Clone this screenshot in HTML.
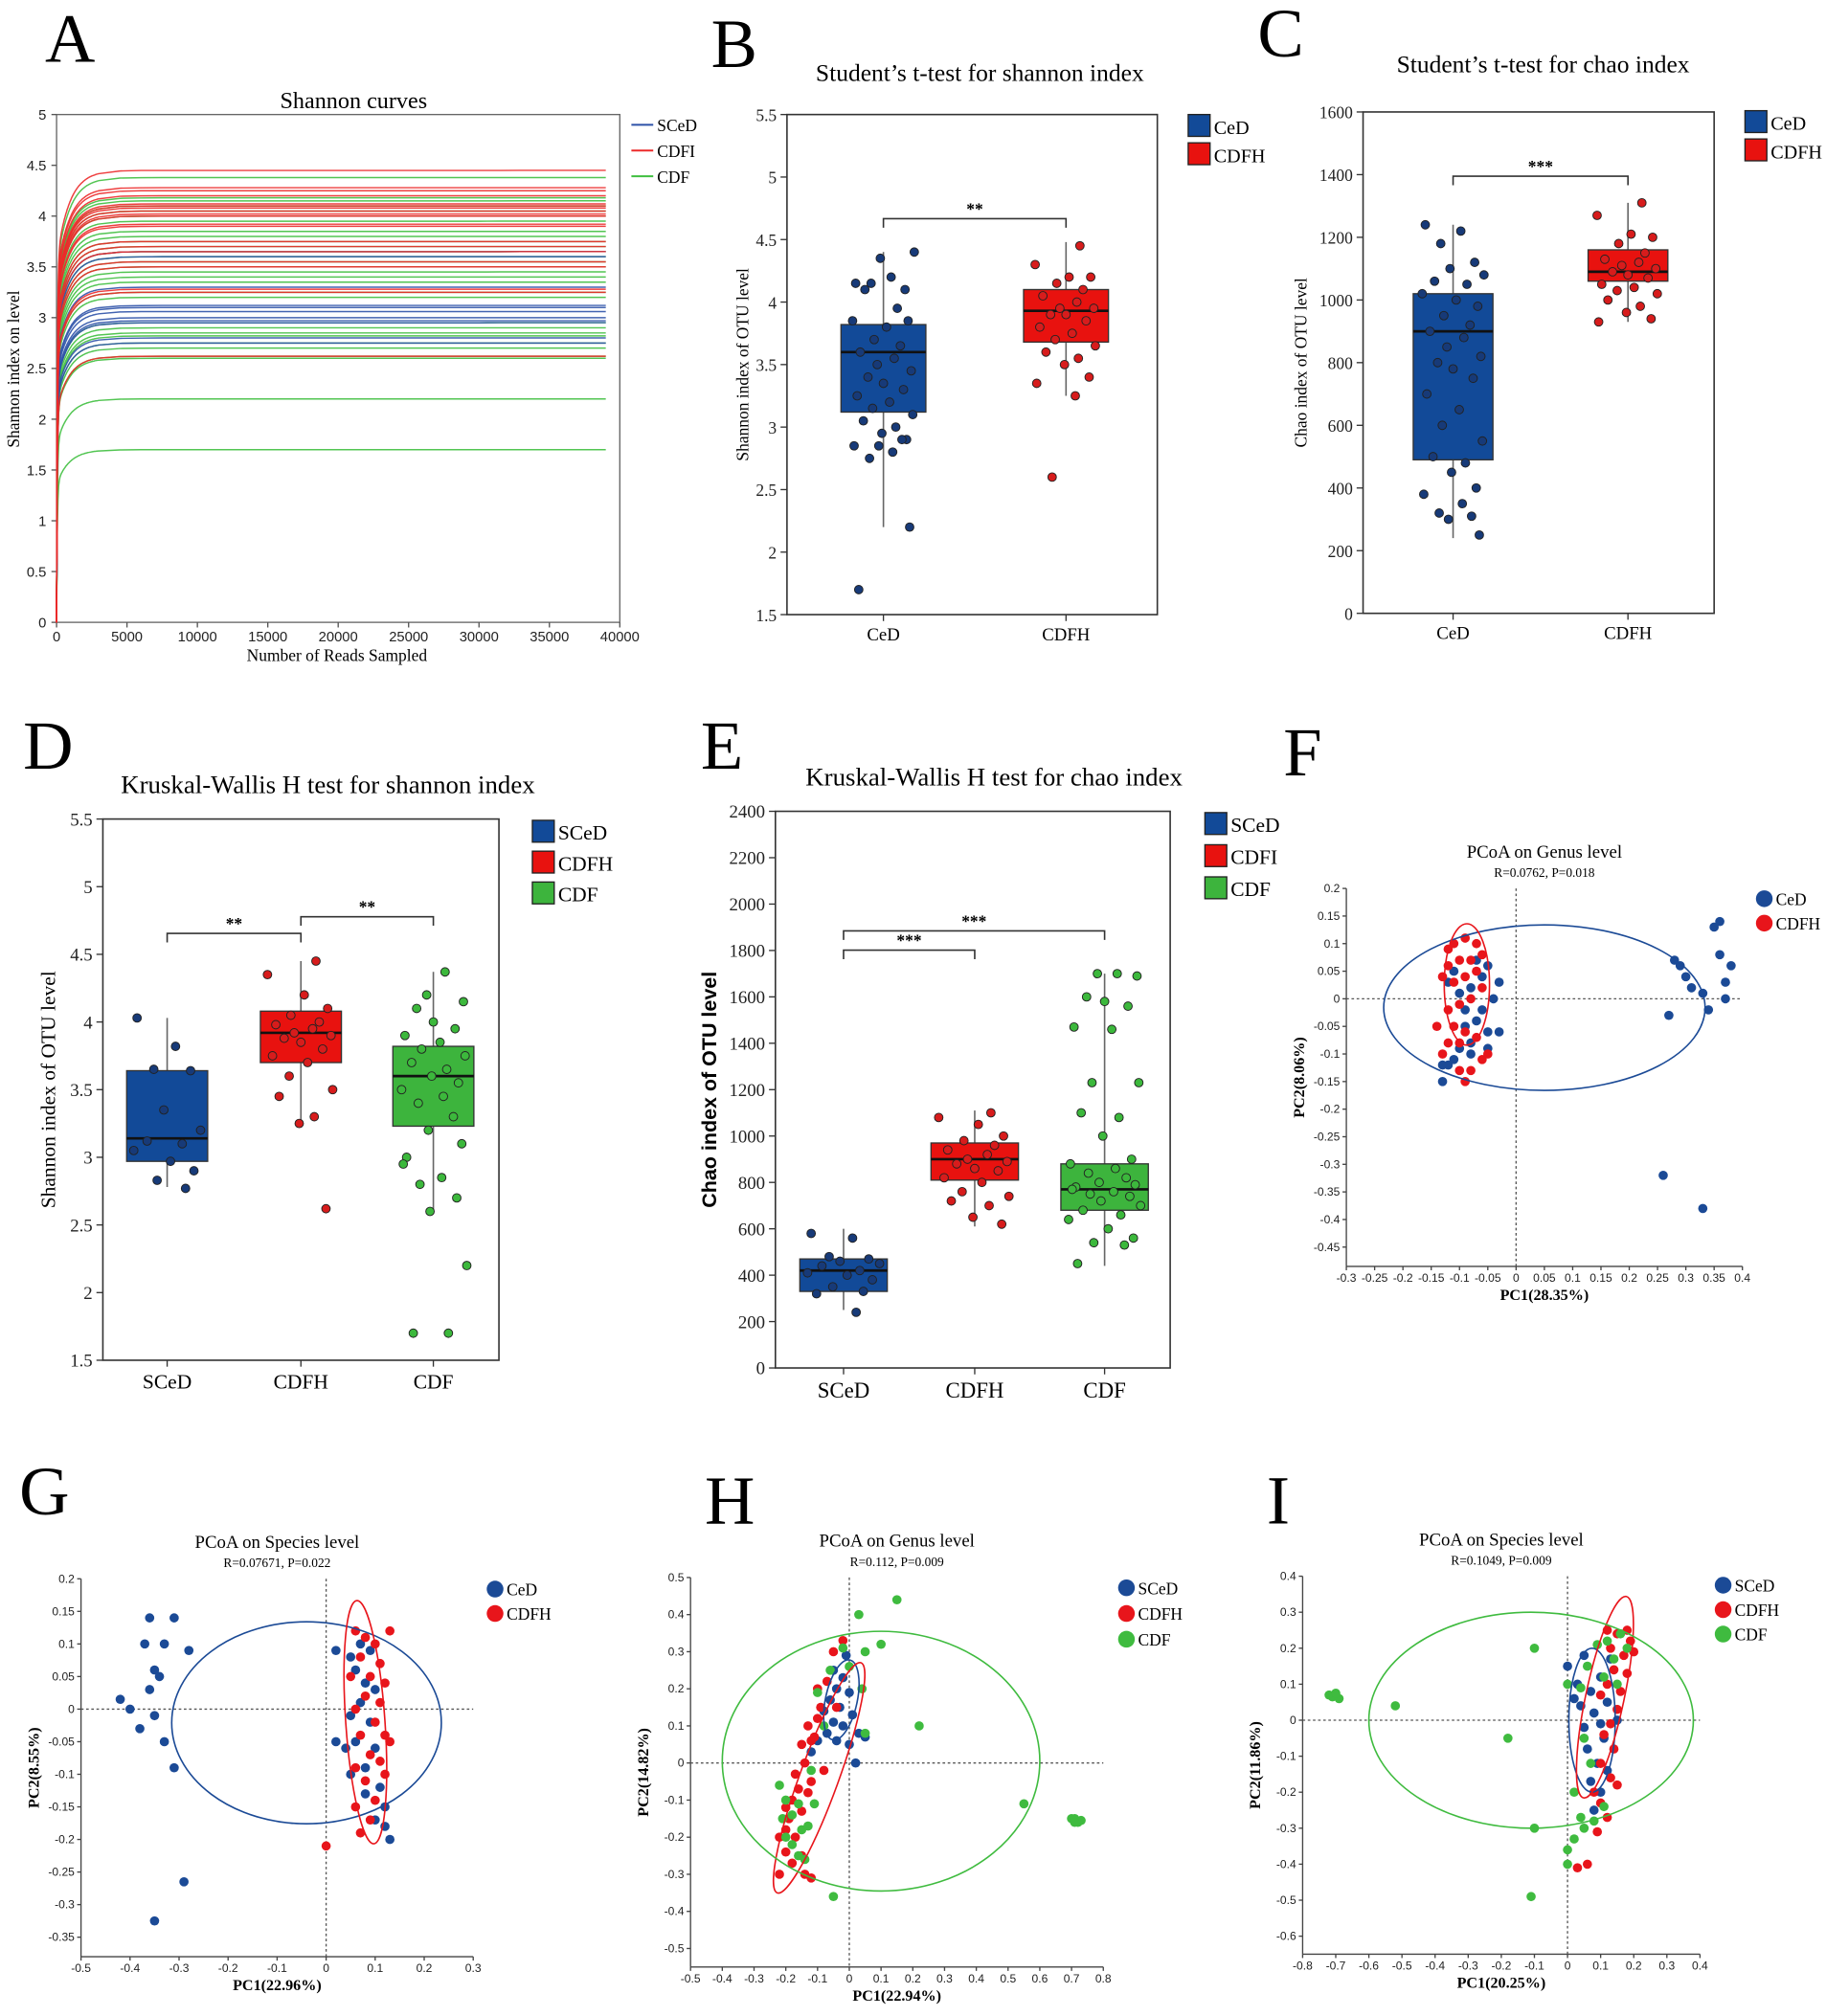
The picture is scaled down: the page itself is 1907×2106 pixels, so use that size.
<!DOCTYPE html>
<html><head><meta charset="utf-8">
<style>
html,body{margin:0;padding:0;background:#fff;}
svg{display:block;}
text{font-family:"Liberation Serif",serif;}
.sans{font-family:"Liberation Sans",sans-serif;}
</style></head>
<body>
<svg id="fig" xmlns="http://www.w3.org/2000/svg" width="1907" height="2106" viewBox="0 0 1420 1568"></svg>
<script>
// ---------- DATA ----------
const shannonGroups = ["SCeD","CDFH","CDF"];
const shannonBlue = [2.75,2.8,2.95,2.97,3.0,3.06,3.1,3.12,3.3,3.6,3.65];
const shannonRed = [2.62,3.25,3.28,3.5,3.55,3.65,3.7,3.75,3.9,3.92,4.0,4.02,4.05,4.08,4.1,4.12,4.2,4.25,4.28,4.45];
const shannonGreen = [1.7,2.2,2.6,2.62,2.7,2.75,2.82,2.85,2.9,2.95,3.2,3.25,3.35,3.4,3.45,3.5,3.55,3.6,3.65,3.7,3.75,3.8,3.85,3.95,4.0,4.05,4.1,4.15,4.18,4.38];

const bCats = ["CeD","CDFH"];
const bBoxes = [[2.2,3.12,3.6,3.82,4.4],[3.25,3.68,3.93,4.1,4.48]];
const bPtsCeD = [4.15,4.2,4.15,4.1,4.35,4.4,4.1,3.95,3.85,3.8,3.85,3.7,3.65,3.6,3.55,3.5,3.45,3.4,3.35,3.3,3.25,3.2,3.15,3.1,3.05,3.0,2.95,2.9,2.85,2.8,2.75,2.9,2.85,2.2,1.7];
const bPtsCDFH = [4.45,4.3,4.2,4.2,4.15,4.1,4.05,4.0,3.95,3.95,3.9,3.9,3.85,3.8,3.75,3.7,3.65,3.6,3.55,3.5,3.4,3.35,3.25,2.6];

const cCats = ["CeD","CDFH"];
const cBoxes = [[240,490,900,1020,1240],[930,1060,1090,1160,1310]];
const cPtsCeD = [1240,1220,1180,1120,1100,1080,1060,1050,1020,1000,980,950,920,900,880,850,820,800,780,750,700,650,600,550,500,480,450,400,380,350,320,310,300,250];
const cPtsCDFH = [1310,1270,1210,1200,1180,1150,1130,1120,1110,1100,1090,1080,1070,1050,1040,1030,1020,1000,980,960,940,930];

const dCats = ["SCeD","CDFH","CDF"];
const dBoxes = [[2.78,2.97,3.14,3.64,4.03],[3.25,3.7,3.92,4.08,4.45],[2.6,3.23,3.6,3.82,4.37]];
const dPtsSCeD = [4.03,3.82,3.65,3.64,3.35,3.2,3.12,3.1,3.05,2.97,2.9,2.83,2.77];
const dPtsCDFH = [4.45,4.35,4.2,4.1,4.05,4.0,3.98,3.95,3.92,3.9,3.88,3.85,3.8,3.75,3.7,3.6,3.5,3.45,3.3,3.25,2.62];
const dPtsCDF = [4.37,4.2,4.15,4.1,4.0,3.95,3.9,3.85,3.8,3.75,3.7,3.65,3.6,3.55,3.5,3.45,3.4,3.3,3.2,3.1,3.0,2.95,2.85,2.8,2.7,2.6,2.2,1.7,1.7];

const eCats = ["SCeD","CDFH","CDF"];
const eBoxes = [[250,330,420,470,600],[610,810,900,970,1110],[440,680,770,880,1700]];
const ePtsSCeD = [580,560,480,470,460,450,440,420,410,400,380,350,330,320,240];
const ePtsCDFH = [1100,1080,1050,1000,980,960,940,920,900,890,880,860,850,820,800,760,740,720,700,650,620];
const ePtsCDF = [1700,1700,1690,1600,1580,1560,1470,1460,1230,1230,1100,1080,1000,900,880,860,840,820,800,790,780,770,760,750,740,720,700,680,660,640,600,560,540,530,450];

const fBlue = [[-0.13,-0.15],[-0.12,-0.12],[-0.11,-0.11],[-0.13,-0.12],[-0.1,-0.09],[-0.08,-0.08],[-0.09,-0.05],[-0.07,-0.04],[-0.05,-0.06],[-0.03,-0.06],[-0.06,-0.02],[-0.04,0.0],[-0.03,0.03],[-0.05,0.06],[-0.06,0.04],[-0.08,0.02],[-0.1,0.01],[-0.09,-0.02],[-0.07,0.07],[-0.11,0.05],[-0.12,0.03],[-0.08,-0.1],[-0.05,-0.09],[0.28,0.07],[0.29,0.06],[0.3,0.04],[0.31,0.02],[0.33,0.01],[0.35,0.13],[0.36,0.14],[0.36,0.08],[0.38,0.06],[0.37,0.03],[0.37,0.0],[0.34,-0.02],[0.27,-0.03],[0.26,-0.32],[0.33,-0.38]];
const fRed = [[-0.12,0.09],[-0.11,0.1],[-0.09,0.11],[-0.07,0.1],[-0.06,0.08],[-0.08,0.07],[-0.1,0.07],[-0.12,0.06],[-0.13,0.04],[-0.11,0.03],[-0.09,0.04],[-0.07,0.05],[-0.06,0.02],[-0.08,0.0],[-0.1,-0.01],[-0.12,-0.02],[-0.14,-0.05],[-0.11,-0.05],[-0.09,-0.06],[-0.07,-0.07],[-0.12,-0.08],[-0.1,-0.08],[-0.06,-0.11],[-0.08,-0.13],[-0.1,-0.13],[-0.09,-0.15],[-0.05,-0.1],[-0.13,-0.1]];

const gBlue = [[-0.36,0.14],[-0.31,0.14],[-0.37,0.1],[-0.33,0.1],[-0.28,0.09],[-0.35,0.06],[-0.34,0.05],[-0.36,0.03],[-0.42,0.015],[-0.4,0.0],[-0.35,-0.01],[-0.38,-0.03],[-0.33,-0.05],[-0.31,-0.09],[-0.29,-0.265],[-0.35,-0.325],[0.02,0.09],[0.05,0.08],[0.07,0.1],[0.09,0.09],[0.06,0.06],[0.08,0.04],[0.1,0.03],[0.07,0.01],[0.05,-0.01],[0.09,-0.02],[0.02,-0.05],[0.06,-0.05],[0.1,-0.06],[0.08,-0.09],[0.05,-0.1],[0.11,-0.12],[0.08,-0.13],[0.12,-0.15],[0.1,-0.17],[0.12,-0.18],[0.13,-0.2],[0.04,-0.06]];
const gRed = [[0.06,0.12],[0.08,0.11],[0.1,0.1],[0.13,0.12],[0.07,0.08],[0.11,0.07],[0.05,0.05],[0.09,0.05],[0.12,0.04],[0.08,0.02],[0.11,0.01],[0.06,0.0],[0.1,-0.02],[0.12,-0.04],[0.13,-0.05],[0.07,-0.04],[0.09,-0.07],[0.11,-0.08],[0.06,-0.09],[0.08,-0.11],[0.1,-0.14],[0.06,-0.15],[0.09,-0.17],[0.07,-0.19],[0.0,-0.21],[0.12,-0.1]];

const hBlue = [[-0.05,0.25],[-0.02,0.23],[-0.04,0.2],[0.0,0.19],[-0.06,0.17],[-0.03,0.15],[0.01,0.13],[-0.08,0.14],[-0.05,0.11],[-0.02,0.1],[0.03,0.08],[-0.07,0.08],[-0.1,0.06],[-0.04,0.06],[0.0,0.05],[0.02,0.0],[-0.12,0.03],[0.05,0.07],[-0.01,0.29]];
const hRed = [[-0.02,0.33],[-0.05,0.3],[-0.1,0.2],[-0.09,0.15],[-0.13,0.1],[-0.12,0.06],[-0.15,0.05],[-0.14,0.0],[-0.17,-0.03],[-0.12,-0.05],[-0.16,-0.07],[-0.18,-0.1],[-0.2,-0.12],[-0.15,-0.13],[-0.19,-0.15],[-0.2,-0.18],[-0.17,-0.2],[-0.22,-0.2],[-0.2,-0.24],[-0.15,-0.25],[-0.18,-0.27],[-0.14,-0.3],[-0.12,-0.31],[-0.22,-0.3],[-0.07,0.22],[-0.04,0.15],[-0.1,0.12],[-0.11,0.07],[-0.08,-0.02],[-0.13,-0.08]];
const hGreen = [[0.03,0.4],[0.15,0.44],[0.1,0.32],[-0.02,0.31],[0.05,0.3],[0.0,0.26],[-0.06,0.25],[0.04,0.2],[0.05,0.08],[-0.1,0.19],[-0.08,0.1],[0.22,0.1],[-0.22,-0.06],[-0.2,-0.1],[-0.16,-0.11],[-0.18,-0.14],[-0.21,-0.15],[-0.15,-0.18],[-0.2,-0.2],[-0.18,-0.22],[-0.14,-0.26],[-0.16,-0.25],[-0.05,-0.36],[-0.12,-0.02],[0.55,-0.11],[0.7,-0.15],[0.71,-0.15],[0.72,-0.16],[0.73,-0.155],[0.71,-0.16],[-0.13,-0.17],[-0.11,-0.11]];

const iBlue = [[0.0,0.15],[0.05,0.18],[0.1,0.12],[0.03,0.1],[0.07,0.08],[0.12,0.05],[0.04,0.04],[0.08,0.02],[0.1,-0.01],[0.05,-0.02],[0.11,-0.05],[0.06,-0.08],[0.09,-0.12],[0.12,-0.14],[0.07,-0.17],[0.1,-0.2],[0.08,-0.25],[0.13,0.17],[0.02,0.06],[0.15,0.0]];
const iRed = [[0.12,0.25],[0.15,0.24],[0.18,0.25],[0.13,0.2],[0.17,0.18],[0.2,0.19],[0.14,0.14],[0.18,0.13],[0.12,0.1],[0.16,0.08],[0.1,0.07],[0.15,0.03],[0.13,-0.01],[0.11,-0.04],[0.14,-0.08],[0.1,-0.12],[0.13,-0.16],[0.08,-0.2],[0.1,-0.23],[0.12,-0.27],[0.09,-0.31],[0.06,-0.4],[0.03,-0.41],[0.15,-0.18],[0.19,0.22]];
const iGreen = [[-0.72,0.07],[-0.7,0.07],[-0.71,0.065],[-0.69,0.06],[-0.7,0.075],[-0.52,0.04],[-0.1,0.2],[-0.18,-0.05],[-0.1,-0.3],[-0.11,-0.49],[0.16,0.24],[0.12,0.22],[0.18,0.2],[0.09,0.21],[0.14,0.17],[0.06,0.15],[0.11,0.12],[0.0,0.1],[0.05,-0.05],[0.02,-0.2],[0.04,-0.27],[0.02,-0.33],[0.0,-0.36],[0.05,-0.3],[0.0,-0.4],[0.08,-0.28],[0.11,-0.24],[0.15,0.1],[0.04,0.09],[0.07,-0.12]];

const JIT = [-18,5,-8,14,-2,20,-12,9,-20,2,16,-6,11,-15,7,-4,18,-10,0,13,-17,4,-7,19,-13,8,-1,15,-19,6,-9,12,-3,17,-16];

const BLUE="#124a98", RED="#e8120f", GREEN="#3db43d";
const PBLUE="#1b4a96", PRED="#e8151b", PGREEN="#3fbb3f";
const svg=document.getElementById('fig');
const NS="http://www.w3.org/2000/svg";
function mk(tag,attrs,parent){const e=document.createElementNS(NS,tag);for(const k in attrs)e.setAttribute(k,attrs[k]);(parent||svg).appendChild(e);return e;}
function txt(x,y,s,size,extra,parent){const t=mk('text',Object.assign({x:x,y:y,'font-size':size},extra||{}),parent);t.textContent=s;return t;}
function lin(a,b,c,d){return (v)=>c+(v-a)*(d-c)/(b-a);}

// panel letters
const letters=[["A",35,48],["B",553,52],["C",978,44],["D",18,598],["E",545,598],["F",998,603],["G",15,1178],["H",548,1185],["I",985,1185]];
letters.forEach(l=>{const t=txt(l[1],l[2],l[0],54);

});

// ---------- PANEL A ----------
(function(){
const g=mk('g',{});


const X=lin(0,40000,44,482), Y=lin(0,5,484,89);
const fr=mk('rect',{x:44,y:89,width:438,height:395,fill:'none',stroke:'#666','stroke-width':1},g);


const ti=txt(275,84,"Shannon curves",18,{'text-anchor':'middle'},g);


for(let v=0;v<=5.001;v+=0.5){const y=Y(v);mk('line',{x1:40,x2:44,y1:y,y2:y,stroke:'#555'},g);
const t=txt(36,y+4,String(+v.toFixed(1)),11,{'text-anchor':'end',class:'sans',fill:'#222'},g);

}
for(let v=0;v<=40000;v+=5000){const x=X(v);mk('line',{x1:x,x2:x,y1:484,y2:488,stroke:'#555'},g);
const t=txt(x,499,String(v),11,{'text-anchor':'middle',class:'sans',fill:'#222'},g);

}
const xt=txt(262,514,"Number of Reads Sampled",13,{'text-anchor':'middle'},g);


const yt=txt(0,0,"Shannon index on level",13,{'text-anchor':'middle',transform:'translate(15,287) rotate(-90)'},g);


function curve(P,col,name){let d='';for(let x=0;x<=39300;x+= (x<3000?50:1500)){const y=P*(1-0.8*Math.exp(-x/50)-0.2*Math.exp(-x/900));d+=(d?'L':'M')+X(x).toFixed(1)+','+Y(y).toFixed(1);}
const p=mk('path',{d:d,fill:'none',stroke:col,'stroke-width':1.1,opacity:0.9},g);

}
shannonGreen.forEach(v=>curve(v,'#3fbf3f','curve-cdf'));
shannonBlue.forEach(v=>curve(v,'#2d52a8','curve-sced'));
shannonRed.forEach(v=>curve(v,'#ec2a2a','curve-cdfh'));
const cols=['#2d52a8','#ec2a2a','#3fbf3f'];
shannonGroups.forEach((n,i)=>{const y=97+i*20;mk('line',{x1:491,x2:508,y1:y,y2:y,stroke:cols[i],'stroke-width':1.5},g);
const t=txt(511,y+5,n==="CDFH"?"CDFI":n,13,{},g);

});
})();

// ---------- BOX PANELS ----------
function boxPanel(o){
const g=mk('g',{});


const Y=lin(o.ymin,o.ymax,o.y1,o.y0);
const fr=mk('rect',{x:o.x0,y:o.y0,width:o.x1-o.x0,height:o.y1-o.y0,fill:'none',stroke:'#333','stroke-width':1.2},g);


const ti=txt(o.tx,o.ty,o.title,o.tsize,{'text-anchor':'middle'},g);


for(let v=o.ymin;v<=o.ymax+1e-6;v+=o.step){const y=Y(v);mk('line',{x1:o.x0-5,x2:o.x0,y1:y,y2:y,stroke:'#333'},g);
const t=txt(o.x0-8,y+5,String(+v.toFixed(1)),o.tick,{'text-anchor':'end',fill:'#222'},g);

}
const yt=txt(0,0,o.ylab,o.ylsize,{'text-anchor':'middle',transform:`translate(${o.ylx},${(o.y0+o.y1)/2}) rotate(-90)`,'font-weight':o.ylbold?'bold':'normal',class:o.ylbold?'sans':''},g);


o.cats.forEach((c,i)=>{const cx=o.cx[i];const b=o.boxes[i];
mk('line',{x1:cx,x2:cx,y1:o.y1,y2:o.y1+5,stroke:'#333'},g);
const t=txt(cx,o.y1+o.catdy,c,o.catsize,{'text-anchor':'middle'},g);


const w=mk('line',{x1:cx,x2:cx,y1:Y(b[0]),y2:Y(b[4]),stroke:'#666','stroke-width':1.2},g);


const r=mk('rect',{x:cx-o.bw/2,y:Y(b[3]),width:o.bw,height:Y(b[1])-Y(b[3]),fill:o.colors[i],stroke:'#333','stroke-width':1},g);


const m=mk('line',{x1:cx-o.bw/2,x2:cx+o.bw/2,y1:Y(b[2]),y2:Y(b[2]),stroke:'#111','stroke-width':2},g);


o.pts[i].forEach((v,k)=>{const p=mk('circle',{cx:cx+JIT[(k+i*7)%JIT.length]*o.jit,cy:Y(v),r:o.pr,fill:o.pcol[i],stroke:'#222','stroke-width':0.7},g);

});
});
o.sig.forEach(s=>{const a=o.cx[s[0]],b=o.cx[s[1]],y=s[2];
const p=mk('path',{d:`M${a},${y+7}V${y}H${b}V${y+7}`,fill:'none',stroke:'#333','stroke-width':1.2},g);


const t=txt((a+b)/2,y-3,s[3],13,{'text-anchor':'middle','font-weight':'bold'},g);

});
o.legend.forEach((n,i)=>{const y=o.ly+i*o.lstep;
const r=mk('rect',{x:o.lx,y:y-9,width:17,height:17,fill:o.colors[i],stroke:'#222'},g);


const t=txt(o.lx+20,y+6,n,o.lsize,{},g);

});
}
boxPanel({name:'panel-b-shannon-ttest',x0:612,x1:900,y0:89,y1:478,ymin:1.5,ymax:5.5,step:0.5,tick:13,
title:"Student’s t-test for shannon index",tx:762,ty:63,tsize:19,ylab:"Shannon index of OTU level",ylx:582,ylsize:13,
cats:bCats,cx:[687,829],boxes:bBoxes,pts:[bPtsCeD,bPtsCDFH],bw:66,colors:[BLUE,RED],pcol:['#173a78','#d71c1c'],pr:3.3,jit:1.2,catdy:20,catsize:14,
sig:[[0,1,170,"**"]],legend:["CeD","CDFH"],lx:924,ly:98,lstep:22,lsize:15});
boxPanel({name:'panel-c-chao-ttest',x0:1060,x1:1333,y0:87,y1:477,ymin:0,ymax:1600,step:200,tick:13,
title:"Student’s t-test for chao index",tx:1200,ty:56,tsize:19,ylab:"Chao index of OTU level",ylx:1016,ylsize:13,
cats:cCats,cx:[1130,1266],boxes:cBoxes,pts:[cPtsCeD,cPtsCDFH],bw:62,colors:[BLUE,RED],pcol:['#173a78','#d71c1c'],pr:3.3,jit:1.2,catdy:20,catsize:14,
sig:[[0,1,137,"***"]],legend:["CeD","CDFH"],lx:1357,ly:95,lstep:22,lsize:15});
boxPanel({name:'panel-d-shannon-kruskal',x0:80,x1:388,y0:637,y1:1058,ymin:1.5,ymax:5.5,step:0.5,tick:14,
title:"Kruskal-Wallis H test for shannon index",tx:255,ty:617,tsize:20,ylab:"Shannon index of OTU level",ylx:43,ylsize:16,
cats:dCats,cx:[130,234,337],boxes:dBoxes,pts:[dPtsSCeD,dPtsCDFH,dPtsCDF],bw:63,colors:[BLUE,RED,GREEN],pcol:['#173a78','#d71c1c','#3cb83c'],pr:3.3,jit:1.3,catdy:22,catsize:16,
sig:[[0,1,726,"**"],[1,2,713,"**"]],legend:["SCeD","CDFH","CDF"],lx:414,ly:647,lstep:24,lsize:16});
boxPanel({name:'panel-e-chao-kruskal',x0:603,x1:910,y0:631,y1:1064,ymin:0,ymax:2400,step:200,tick:14,
title:"Kruskal-Wallis H test for chao index",tx:773,ty:611,tsize:20,ylab:"Chao index of OTU level",ylx:557,ylsize:16,ylbold:true,
cats:eCats,cx:[656,758,859],boxes:eBoxes,pts:[ePtsSCeD,ePtsCDFH,ePtsCDF],bw:68,colors:[BLUE,RED,GREEN],pcol:['#173a78','#d71c1c','#3cb83c'],pr:3.3,jit:1.4,catdy:23,catsize:17,
sig:[[0,1,739,"***"],[0,2,724,"***"]],legend:["SCeD","CDFI","CDF"],lx:937,ly:641,lstep:25,lsize:16});

// ---------- PCoA PANELS ----------
function pcoa(o){
const g=mk('g',{});


const X=lin(o.xmin,o.xmax,o.x0,o.x1), Y=lin(o.ymin,o.ymax,o.y1,o.y0);
mk('line',{x1:o.x0,x2:o.x0,y1:o.y0,y2:o.y1,stroke:'#444'},g);
mk('line',{x1:o.x0,x2:o.x1,y1:o.y1,y2:o.y1,stroke:'#444'},g);
const zx=mk('line',{x1:X(0),x2:X(0),y1:o.y0,y2:o.y1,stroke:'#555','stroke-dasharray':'2,2'},g);


const zy=mk('line',{x1:o.x0,x2:o.x1,y1:Y(0),y2:Y(0),stroke:'#555','stroke-dasharray':'2,2'},g);


const n=Math.round((o.xmax-o.xmin)/o.xs);
for(let i=0;i<=n;i++){const v=o.xmin+i*o.xs,x=X(v);mk('line',{x1:x,x2:x,y1:o.y1,y2:o.y1+3,stroke:'#444'},g);
const t=txt(x,o.y1+12,String(+v.toFixed(2)),9,{'text-anchor':'middle',class:'sans',fill:'#222'},g);

}
const m=Math.round((o.ymax-o.ytmin)/o.ys);
for(let i=0;i<=m;i++){const v=o.ymax-i*o.ys,y=Y(v);mk('line',{x1:o.x0-3,x2:o.x0,y1:y,y2:y,stroke:'#444'},g);
const t=txt(o.x0-5,y+3,String(+v.toFixed(2)),9,{'text-anchor':'end',class:'sans',fill:'#222'},g);

}
const ti=txt((o.x0+o.x1)/2,o.y0-24,o.title,14,{'text-anchor':'middle'},g);


const st=txt((o.x0+o.x1)/2,o.y0-9,o.sub,10,{'text-anchor':'middle'},g);


const xt=txt((o.x0+o.x1)/2,o.y1+26,o.xlab,12,{'text-anchor':'middle','font-weight':'bold'},g);


const yt=txt(0,0,o.ylab,12,{'text-anchor':'middle','font-weight':'bold',transform:`translate(${o.x0-33},${(o.y0+o.y1)/2}) rotate(-90)`},g);


o.groups.forEach((grp,gi)=>{
grp.pts.forEach(p=>{const c=mk('circle',{cx:X(p[0]),cy:Y(p[1]),r:3.6,fill:grp.col},g);

});
});
o.groups.forEach(grp=>{const e=grp.ell;if(!e)return;
const cx=X(e[0]),cy=Y(e[1]),rx=X(e[0]+e[2])-cx,ry=cy-Y(e[1]+e[3]);
const el=mk('ellipse',{cx:cx,cy:cy,rx:rx,ry:ry,fill:'none',stroke:grp.col,'stroke-width':1.2,transform:`rotate(${e[4]} ${cx} ${cy})`},g);

});
o.groups.forEach((grp,gi)=>{const y=o.ly+gi*o.lstep;
const c=mk('circle',{cx:o.lx,cy:y,r:6.5,fill:grp.col},g);


const t=txt(o.lx+9,y+5,grp.n,13,{},g);

});
}
pcoa({name:'panel-f-pcoa-genus',x0:1047,x1:1355,y0:691,y1:985,xmin:-0.3,xmax:0.4,xs:0.05,ymin:-0.485,ymax:0.2,ytmin:-0.45,ys:0.05,
title:"PCoA on Genus level",sub:"R=0.0762, P=0.018",xlab:"PC1(28.35%)",ylab:"PC2(8.06%)",lx:1372,ly:699,lstep:19,
groups:[{n:"CeD",col:PBLUE,pts:fBlue,ell:[0.05,-0.016,0.284,0.15,0]},{n:"CDFH",col:PRED,pts:fRed,ell:[-0.087,0.026,0.04,0.11,0]}]});
pcoa({name:'panel-g-pcoa-species',x0:63,x1:368,y0:1228,y1:1522,xmin:-0.5,xmax:0.3,xs:0.1,ymin:-0.38,ymax:0.2,ytmin:-0.35,ys:0.05,
title:"PCoA on Species level",sub:"R=0.07671, P=0.022",xlab:"PC1(22.96%)",ylab:"PC2(8.55%)",lx:385,ly:1236,lstep:19,
groups:[{n:"CeD",col:PBLUE,pts:gBlue,ell:[-0.04,-0.021,0.275,0.155,0]},{n:"CDFH",col:PRED,pts:gRed,ell:[0.08,-0.02,0.04,0.187,-4]}]});
pcoa({name:'panel-h-pcoa-genus',x0:537,x1:858,y0:1227,y1:1530,xmin:-0.5,xmax:0.8,xs:0.1,ymin:-0.55,ymax:0.5,ytmin:-0.5,ys:0.1,
title:"PCoA on Genus level",sub:"R=0.112, P=0.009",xlab:"PC1(22.94%)",ylab:"PC2(14.82%)",lx:876,ly:1235,lstep:20,
groups:[{n:"SCeD",col:PBLUE,pts:hBlue,ell:[-0.025,0.17,0.05,0.11,12]},{n:"CDFH",col:PRED,pts:hRed,ell:[-0.095,-0.04,0.061,0.33,20]},{n:"CDF",col:PGREEN,pts:hGreen,ell:[0.1,0.005,0.5,0.35,0]}]});
pcoa({name:'panel-i-pcoa-species',x0:1013,x1:1322,y0:1226,y1:1520,xmin:-0.8,xmax:0.4,xs:0.1,ymin:-0.65,ymax:0.4,ytmin:-0.6,ys:0.1,
title:"PCoA on Species level",sub:"R=0.1049, P=0.009",xlab:"PC1(20.25%)",ylab:"PC2(11.86%)",lx:1340,ly:1233,lstep:19,
groups:[{n:"SCeD",col:PBLUE,pts:iBlue,ell:[0.074,0.0,0.07,0.2,0]},{n:"CDFH",col:PRED,pts:iRed,ell:[0.113,0.064,0.058,0.286,12]},{n:"CDF",col:PGREEN,pts:iGreen,ell:[-0.11,0.0,0.49,0.3,0]}]});
</script>
</body></html>
